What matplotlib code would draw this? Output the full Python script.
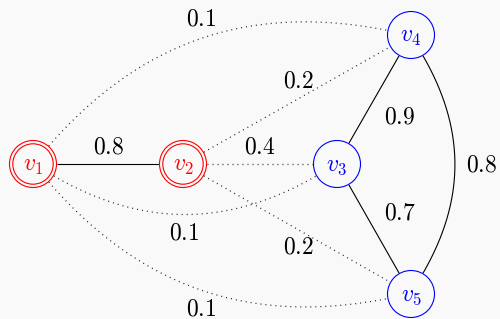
import numpy as np
import matplotlib
matplotlib.use("Agg")
import matplotlib.pyplot as plt
from matplotlib.patches import Circle

plt.rcParams['mathtext.fontset'] = 'cm'

# ---- data ----
nodes = ["v1", "v2", "v3", "v4", "v5"]
node_labels = [r"$v_1$", r"$v_2$", r"$v_3$", r"$v_4$", r"$v_5$"]
node_group = ["red", "red", "blue", "blue", "blue"]
edge_src = ["v1", "v3", "v3", "v4", "v1", "v2", "v2", "v1", "v2", "v1"]
edge_dst = ["v2", "v4", "v5", "v5", "v4", "v4", "v3", "v3", "v5", "v5"]
edge_weight = [0.8, 0.9, 0.7, 0.8, 0.1, 0.2, 0.4, 0.1, 0.2, 0.1]
edge_solid = [True, True, True, True, False, False, False, False, False, False]
# bend angle in degrees (positive = bend left, negative = bend right)
edge_bend = [0, 0, 0, 30, 30, 0, 0, -30, 0, -30]

# ---- layout (pixel space) ----
node_pos = {"v1": (33, 164), "v2": (183, 164), "v3": (337, 164),
            "v4": (411, 35), "v5": (411, 294)}
label_pos = [(109, 147), (400, 116), (400, 212), (482, 164), (201, 19),
             (298, 80), (260, 147), (184, 232), (298, 247), (201, 308)]
R = 24
BG = "#f9f9f9"

W, H = 500, 319
fig = plt.figure(figsize=(W / 100, H / 100), dpi=100, facecolor=BG)
ax = fig.add_axes([0, 0, 1, 1])
ax.set_xlim(0, W)
ax.set_ylim(H, 0)
ax.set_facecolor(BG)
ax.axis("off")


def to_math(p):
    return np.array([p[0], H - p[1]], dtype=float)


for s, d, w, solid, bend, lp in zip(edge_src, edge_dst, edge_weight,
                                     edge_solid, edge_bend, label_pos):
    a = to_math(node_pos[s])
    b = to_math(node_pos[d])
    ang = np.arctan2(b[1] - a[1], b[0] - a[0])
    out_a = ang + np.radians(bend)
    in_a = ang + np.pi - np.radians(bend)
    p0 = a + R * np.array([np.cos(out_a), np.sin(out_a)])
    p3 = b + R * np.array([np.cos(in_a), np.sin(in_a)])
    dist = np.linalg.norm(p3 - p0)
    L = 0.3915 * dist
    p1 = p0 + L * np.array([np.cos(out_a), np.sin(out_a)])
    p2 = p3 + L * np.array([np.cos(in_a), np.sin(in_a)])
    t = np.linspace(0, 1, 200)[:, None]
    pts = ((1 - t) ** 3) * p0 + 3 * ((1 - t) ** 2) * t * p1 + 3 * (1 - t) * t ** 2 * p2 + t ** 3 * p3
    xs = pts[:, 0]
    ys = H - pts[:, 1]
    if solid:
        ax.plot(xs, ys, color="black", lw=0.8, solid_capstyle="butt", zorder=1)
    else:
        ax.plot(xs, ys, color="#222222", lw=0.9, linestyle=(0, (0.8, 3.2)), zorder=1)
    ax.text(lp[0], lp[1], r"$%.1f$" % w, fontsize=17, ha="center", va="center",
            color="black", zorder=3)

for n, lab, g in zip(nodes, node_labels, node_group):
    x, y = node_pos[n]
    if g == "red":
        ax.add_patch(Circle((x, y), R - 0.5, facecolor=BG, edgecolor="#ff0000", lw=0.8, zorder=2))
        ax.add_patch(Circle((x, y), R - 3.8, facecolor="none", edgecolor="#ff0000", lw=0.8, zorder=2))
        col = "#ff0000"
    else:
        ax.add_patch(Circle((x, y), R - 0.5, facecolor=BG, edgecolor="#0000ff", lw=0.8, zorder=2))
        col = "#0000ff"
    ax.text(x, y + 1, lab, fontsize=17, ha="center", va="center", color=col, zorder=3)

fig.savefig("out.png", dpi=100, facecolor=BG)
